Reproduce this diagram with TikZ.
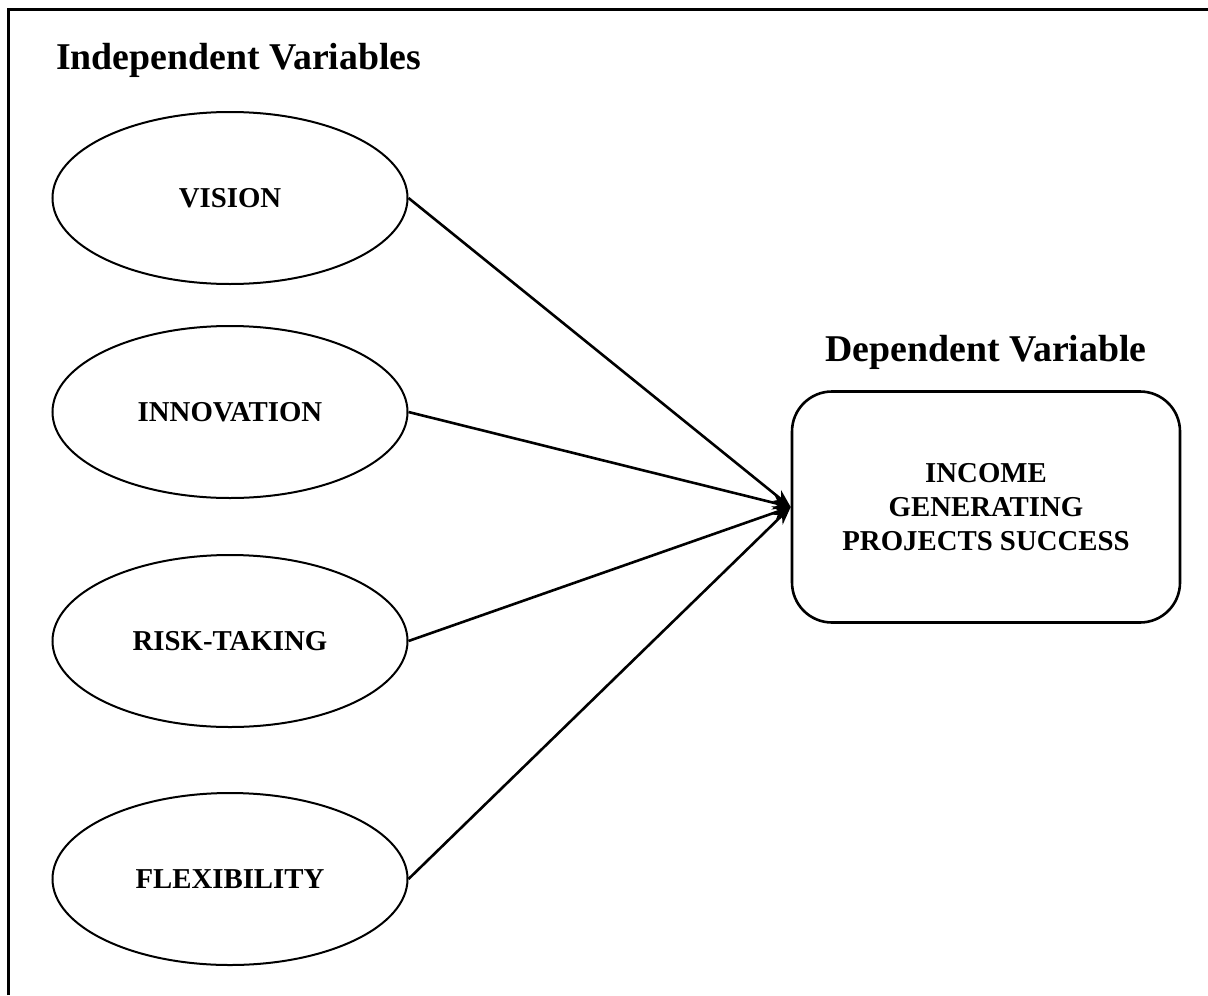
\documentclass[tikz,border=0pt]{standalone}
\usepackage{fontspec}
\setmainfont{Liberation Serif}
\usetikzlibrary{shapes.geometric, arrows.meta, positioning}

\begin{document}
\begin{tikzpicture}[x=0.5pt, y=-0.5pt,
    indvar/.style={draw, ellipse, line width=1pt, minimum width=177.5pt, minimum height=86pt, inner sep=0pt, font=\fontsize{14.4}{17.4}\selectfont\bfseries},
    depvar/.style={draw, rectangle, rounded corners=20pt, line width=1.3pt, minimum width=194pt, minimum height=115.5pt, align=center, font=\fontsize{14.4}{17}\selectfont\bfseries},
    heading/.style={font=\fontsize{18.9}{22}\selectfont\bfseries},
    conn/.style={line width=1.3pt, -{Stealth[length=9pt, width=7pt]}}]
    \useasboundingbox (0,0) rectangle (1208,995);
    % Frame (only top and left edges show)
    \draw[line width=1.5pt] (8,995) -- (8,10) -- (1208,10);

    % LEFT: Independent variables
    \node[heading, anchor=west] (indtitle) at (49,60) {Independent Variables};
    \node[indvar] (vision) at (230,198) {VISION};
    \node[indvar] (innovation) at (230,412) {INNOVATION};
    \node[indvar] (risk) at (230,641) {RISK-TAKING};
    \node[indvar] (flex) at (230,879) {FLEXIBILITY};

    % RIGHT: Dependent variable
    \node[depvar] (success) at (986,507) {INCOME\\GENERATING\\PROJECTS SUCCESS};
    \node[heading] (deptitle) at (986,352) {Dependent Variable};

    % Connectors
    \draw[conn] (vision.east) -- (success.west);
    \draw[conn] (innovation.east) -- (success.west);
    \draw[conn] (risk.east) -- (success.west);
    \draw[conn] (flex.east) -- (success.west);
\end{tikzpicture}
\end{document}
